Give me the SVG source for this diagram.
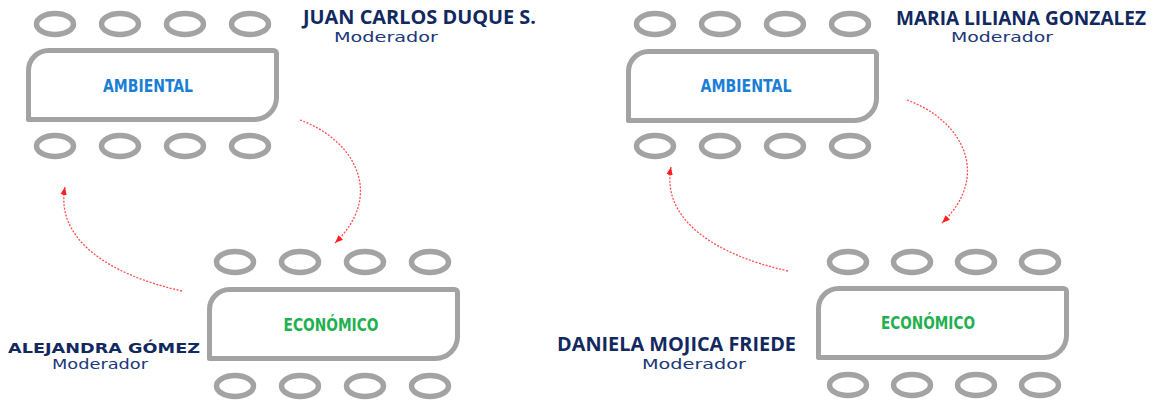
<svg xmlns="http://www.w3.org/2000/svg" width="1162" height="400" viewBox="0 0 1162 400">
<style>
.chair{fill:none;stroke:#a3a3a3;stroke-width:5.5}
.table{fill:#fff;stroke:#a3a3a3;stroke-width:5;stroke-linejoin:round}
.amb{font-family:"DejaVu Sans Condensed","Liberation Sans Narrow","DejaVu Sans",sans-serif;font-weight:bold;font-size:17px;fill:#1a7fd4}
.eco{font-family:"DejaVu Sans Condensed","Liberation Sans Narrow","DejaVu Sans",sans-serif;font-weight:bold;font-size:17px;fill:#1fb04f}
.name{font-family:"Open Sans","Noto Sans","Liberation Sans",sans-serif;font-weight:bold;fill:#12295f}
.name2{font-family:"DejaVu Sans","Liberation Sans",sans-serif;font-weight:bold;font-size:14.5px;fill:#12295f}
.mod{font-family:"DejaVu Sans","Liberation Sans",sans-serif;font-size:13.5px;fill:#20397a}
.arrow{fill:none;stroke:#ff4d4d;stroke-width:1.3;stroke-dasharray:2 1.5;marker-end:url(#ah)}
</style>
<defs>
<marker id="ah" viewBox="0 0 10 10" refX="10" refY="5" markerWidth="8" markerHeight="8" markerUnits="userSpaceOnUse" orient="auto">
<path d="M0,1 L10,5 L0,9 Z" fill="#ff1f1f"/>
</marker>
<path id="tbl" d="M2.5,71.5 V22.5 A20,20 0 0 1 22.5,2.5 H247.5 A3,3 0 0 1 250.5,5.5 V49.5 A22,22 0 0 1 228.5,71.5 Z"/>
</defs>

<g id="mesa-ambiental-1">
<ellipse class="chair" cx="55" cy="24" rx="18.5" ry="10.5"/>
<ellipse class="chair" cx="120" cy="24" rx="18.5" ry="10.5"/>
<ellipse class="chair" cx="185" cy="24" rx="18.5" ry="10.5"/>
<ellipse class="chair" cx="250" cy="24" rx="18.5" ry="10.5"/>
<use href="#tbl" class="table" transform="translate(26,48)"/>
<text class="amb" x="148" y="92" text-anchor="middle" textLength="90" lengthAdjust="spacingAndGlyphs">AMBIENTAL</text>
<ellipse class="chair" cx="55" cy="146" rx="18.5" ry="10.5"/>
<ellipse class="chair" cx="120" cy="146" rx="18.5" ry="10.5"/>
<ellipse class="chair" cx="185" cy="146" rx="18.5" ry="10.5"/>
<ellipse class="chair" cx="250" cy="146" rx="18.5" ry="10.5"/>
</g>

<g id="mesa-economico-1">
<ellipse class="chair" cx="235" cy="262" rx="18.5" ry="10.5"/>
<ellipse class="chair" cx="300" cy="262" rx="18.5" ry="10.5"/>
<ellipse class="chair" cx="365" cy="262" rx="18.5" ry="10.5"/>
<ellipse class="chair" cx="430" cy="262" rx="18.5" ry="10.5"/>
<use href="#tbl" class="table" transform="translate(207,287)"/>
<text class="eco" x="331" y="331" text-anchor="middle" textLength="95" lengthAdjust="spacingAndGlyphs">ECONÓMICO</text>
<ellipse class="chair" cx="235" cy="386" rx="18.5" ry="10.5"/>
<ellipse class="chair" cx="300" cy="386" rx="18.5" ry="10.5"/>
<ellipse class="chair" cx="365" cy="386" rx="18.5" ry="10.5"/>
<ellipse class="chair" cx="430" cy="386" rx="18.5" ry="10.5"/>
</g>

<g id="mesa-ambiental-2">
<ellipse class="chair" cx="655" cy="24" rx="18.5" ry="10.5"/>
<ellipse class="chair" cx="720" cy="24" rx="18.5" ry="10.5"/>
<ellipse class="chair" cx="785" cy="24" rx="18.5" ry="10.5"/>
<ellipse class="chair" cx="850" cy="24" rx="18.5" ry="10.5"/>
<use href="#tbl" class="table" transform="translate(626,49)"/>
<text class="amb" x="746" y="92" text-anchor="middle" textLength="91" lengthAdjust="spacingAndGlyphs">AMBIENTAL</text>
<ellipse class="chair" cx="655" cy="146" rx="18.5" ry="10.5"/>
<ellipse class="chair" cx="720" cy="146" rx="18.5" ry="10.5"/>
<ellipse class="chair" cx="785" cy="146" rx="18.5" ry="10.5"/>
<ellipse class="chair" cx="850" cy="146" rx="18.5" ry="10.5"/>
</g>

<g id="mesa-economico-2">
<ellipse class="chair" cx="848" cy="262" rx="18.5" ry="10.5"/>
<ellipse class="chair" cx="912" cy="262" rx="18.5" ry="10.5"/>
<ellipse class="chair" cx="976" cy="262" rx="18.5" ry="10.5"/>
<ellipse class="chair" cx="1040" cy="262" rx="18.5" ry="10.5"/>
<use href="#tbl" class="table" transform="translate(816,286)"/>
<text class="eco" x="928" y="329" text-anchor="middle" textLength="94" lengthAdjust="spacingAndGlyphs">ECONÓMICO</text>
<ellipse class="chair" cx="848" cy="385" rx="18.5" ry="10.5"/>
<ellipse class="chair" cx="912" cy="385" rx="18.5" ry="10.5"/>
<ellipse class="chair" cx="976" cy="385" rx="18.5" ry="10.5"/>
<ellipse class="chair" cx="1040" cy="385" rx="18.5" ry="10.5"/>
</g>

<g id="moderador-juan">
<text class="name" x="303" y="23.5" font-size="20" textLength="233" lengthAdjust="spacingAndGlyphs">JUAN CARLOS DUQUE S.</text>
<text class="mod" x="334" y="42" textLength="104" lengthAdjust="spacingAndGlyphs">Moderador</text>
</g>
<g id="moderador-alejandra">
<text class="name2" x="8" y="353" textLength="192" lengthAdjust="spacingAndGlyphs">ALEJANDRA GÓMEZ</text>
<text class="mod" x="52" y="369" textLength="96" lengthAdjust="spacingAndGlyphs">Moderador</text>
</g>
<g id="moderador-maria">
<text class="name" x="896" y="25" font-size="20" textLength="250" lengthAdjust="spacingAndGlyphs">MARIA LILIANA GONZALEZ</text>
<text class="mod" x="951" y="42" textLength="102" lengthAdjust="spacingAndGlyphs">Moderador</text>
</g>
<g id="moderador-daniela">
<text class="name" x="557" y="351" font-size="19" textLength="239" lengthAdjust="spacingAndGlyphs">DANIELA MOJICA FRIEDE</text>
<text class="mod" x="642" y="369" textLength="104" lengthAdjust="spacingAndGlyphs">Moderador</text>
</g>

<g id="connectors">
<path class="arrow" d="M300,120 C355,140 385,195 335,243"/>
<path class="arrow" d="M182,291 C110,275 55,240 65,187"/>
<path class="arrow" d="M907,100 C962,120 992,175 942,223"/>
<path class="arrow" d="M788,271 C716,255 661,220 671,167"/>
</g>
</svg>
